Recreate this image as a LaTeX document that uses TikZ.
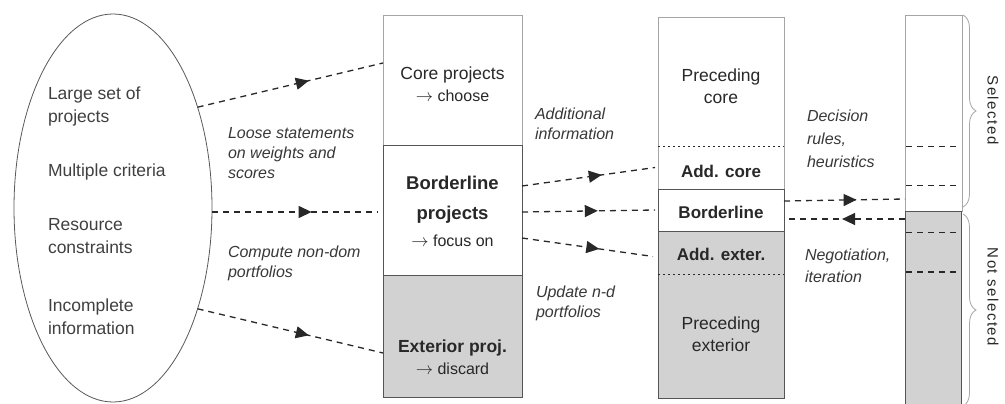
\documentclass[tikz,border=0pt]{standalone}
\usepackage{fontspec}
\setmainfont{Liberation Sans}
\newfontfamily\spacedsans[LetterSpace=10]{Liberation Sans}
\usetikzlibrary{arrows.meta,decorations.markings,decorations.pathreplacing,shapes.geometric}

\definecolor{shade}{RGB}{210,210,210}
\definecolor{edge}{RGB}{85,85,85}
\definecolor{lightedge}{RGB}{165,165,165}
\definecolor{ink}{RGB}{40,40,40}

\newcommand{\rarr}{$\rightarrow$}

\begin{document}
\begin{tikzpicture}[x=1pt,y=-1pt,
  every node/.style={inner sep=0pt,outer sep=0pt},
  plain/.style={font=\fontsize{17.5}{22}\selectfont,align=center,text=ink},
  heavy/.style={font=\bfseries\fontsize{17}{22}\selectfont,align=center,text=ink},
  pooltext/.style={font=\fontsize{17.5}{23}\selectfont,align=left,anchor=west,text=black!75},
  note/.style={font=\itshape\fontsize{16}{20}\selectfont,align=left,anchor=west,text=black!78},
  side/.style={font=\spacedsans\fontsize{15}{18}\selectfont,rotate=-90,text=ink},
  flow/.style={draw=ink,line width=1.3pt,dash pattern=on 6pt off 5pt},
  tipat/.style={postaction={decorate},decoration={markings,
      mark=at position #1 with {\arrow{Triangle[length=13pt,width=12pt]}}}},
  split/.style={draw=ink,line width=0.8pt,dash pattern=on 2pt off 3pt},
  cut/.style={draw=ink,line width=1.1pt,dash pattern=on 6pt off 5pt},
  bracket/.style={draw=lightedge,line width=0.8pt,decorate,
      decoration={brace,amplitude=13pt}}
]
\path[use as bounding box,clip] (0,0) rectangle (1005,404);
\fill[white] (0,0) rectangle (1005,404);

% ---- input pool -------------------------------------------------------
\node[ellipse,draw=black!65,line width=0.8pt,minimum width=198pt,
      minimum height=388pt] (pool) at (113,208) {};
\node[pooltext] (p1) at (48,106.5) {Large set of\\projects};
\node[pooltext] (p2) at (48,172) {Multiple criteria};
\node[pooltext] (p3) at (48,236.5) {Resource\\constraints};
\node[pooltext] (p4) at (48,316.5) {Incomplete\\information};

% ---- first classification ------------------------------------------------
\node[rectangle,draw=lightedge,line width=0.9pt,minimum width=139pt,
      minimum height=130pt] (core) at (452.5,80) {};
\node[rectangle,draw=edge,line width=0.9pt,minimum width=139pt,
      minimum height=130pt] (bord) at (452.5,210) {};
\node[rectangle,draw=edge,fill=shade,line width=0.9pt,minimum width=139pt,
      minimum height=122pt] (ext) at (452.5,336) {};

\node[plain] (coretxt) at (452.5,84)
  {Core projects\\{\fontsize{16}{22}\selectfont \rarr\ choose}};
\node[plain] (bordtxt) at (452.5,211.5)
  {{\bfseries\fontsize{18.5}{22}\selectfont Borderline}\\[8pt]
   {\bfseries\fontsize{18.5}{22}\selectfont projects}\\[5pt]
   {\fontsize{16}{22}\selectfont \rarr\ focus on}};
\node[plain] (exttxt) at (452.5,357.5)
  {{\bfseries Exterior proj.}\\{\fontsize{16}{21}\selectfont \rarr\ discard}};

% ---- second classification ------------------------------------------------
\node[rectangle,minimum width=126pt,minimum height=129pt] (precore) at (721,81.5) {};
\node[rectangle,minimum width=126pt,minimum height=43pt] (addcore) at (721,167.5) {};
\node[rectangle,minimum width=126pt,minimum height=42pt] (bline) at (721,210) {};
\node[rectangle,fill=shade,minimum width=126pt,minimum height=43pt] (addext) at (721,252.5) {};
\node[rectangle,fill=shade,minimum width=126pt,minimum height=124pt] (preext) at (721,336) {};

\draw[lightedge,line width=0.9pt] (precore.north west) rectangle (addcore.south east);
\draw[edge,line width=0.9pt] (bline.north west) rectangle (bline.south east);
\draw[edge,line width=0.9pt] (addext.north west) rectangle (preext.south east);
\draw[split] (precore.south west) -- (precore.south east);
\draw[split] (addext.south west) -- (addext.south east);

\node[plain] (precoretxt) at (721,86) {Preceding\\core};
\node[heavy] (addcoretxt) at (721,171) {Add. core};
\node[heavy] (blinetxt) at (721,212) {Borderline};
\node[heavy] (addexttxt) at (721,254) {Add. exter.};
\node[plain] (preexttxt) at (721,334) {Preceding\\exterior};

% ---- final portfolio ------------------------------------------------------
\node[rectangle,draw=lightedge,line width=0.8pt,minimum width=57pt,
      minimum height=196pt] (sel) at (933.5,113) {};
\node[rectangle,draw=edge,fill=shade,line width=0.9pt,minimum width=56pt,
      minimum height=200pt] (notsel) at (933,311) {};
\draw[cut,line width=0.9pt] (906,146) -- (958,146);
\draw[cut,line width=0.9pt] (906,185) -- (958,185);
\draw[cut,line width=0.9pt] (906,232) -- (958,232);
\draw[cut,line width=1.5pt] (906,272) -- (958,272);

\draw[bracket] (963,15) -- (963,207);
\draw[bracket] (963,214) -- (963,406);
\node[side] (seltxt) at (993,110) {Selected};
\node[side] (notseltxt) at (993,297) {Not selected};

% ---- flows ----------------------------------------------------------------
\draw[flow,tipat=0.6] (pool.50) -- ([yshift=17pt]core.west);
\draw[flow,tipat=0.6] ([yshift=-4pt]pool.east) -- ([yshift=-2pt,xshift=-5pt]bord.west);
\draw[flow,tipat=0.6] (pool.-50) -- ([yshift=-17pt]ext.west);

\draw[flow,tipat=0.6] ([yshift=24pt]bord.east) -- ([xshift=-3pt]addcore.west);
\draw[flow,tipat=0.57] ([yshift=-2pt]bord.east) -- ([xshift=-3pt]bline.west);
\draw[flow,tipat=0.59] ([yshift=-28pt]bord.east) -- ([yshift=-4pt,xshift=-5pt]addext.west);

\draw[edge,line width=1pt] ([yshift=9pt]bline.east) -- ([yshift=-9pt]bline.east);
\draw[flow,tipat=0.6] ([yshift=9pt]bline.east) -- ([yshift=12pt]sel.south west);
\draw[flow,tipat=0.52] ([yshift=-8pt]notsel.north west) -- ([yshift=-9pt]bline.east);

% ---- flow labels --------------------------------------------------------------
\node[note] (loose) at (228,153) {Loose statements\\on weights and\\scores};
\node[note] (compute) at (228,263) {Compute non-dom\\portfolios};
\node[note] (addinfo) at (535,124) {Additional\\information};
\node[note] (update) at (536,303) {Update n-d\\portfolios};
\node[note,font=\itshape\fontsize{16}{23}\selectfont] (decision) at (807,139)
  {Decision\\rules,\\heuristics};
\node[note,font=\itshape\fontsize{16}{22}\selectfont] (nego) at (805,266)
  {Negotiation,\\iteration};
\end{tikzpicture}
\end{document}
